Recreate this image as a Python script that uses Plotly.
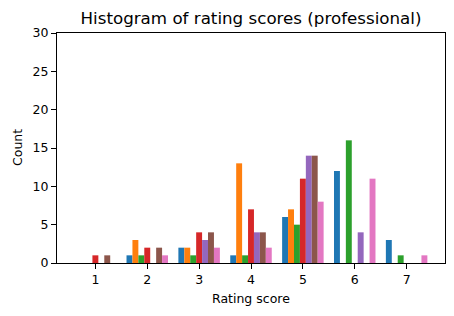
import plotly.graph_objects as go

scores = [1, 2, 3, 4, 5, 6, 7]
series_names = ["Rater 1", "Rater 2", "Rater 3", "Rater 4", "Rater 5", "Rater 6", "Rater 7"]
counts_1 = [0, 1, 2, 1, 6, 12, 3]
counts_2 = [0, 3, 2, 13, 7, 0, 0]
counts_3 = [0, 1, 1, 1, 5, 16, 1]
counts_4 = [1, 2, 4, 7, 11, 0, 0]
counts_5 = [0, 0, 3, 4, 14, 4, 0]
counts_6 = [1, 2, 4, 4, 14, 0, 0]
counts_7 = [0, 1, 2, 2, 8, 11, 1]
colors = ["#1f77b4", "#ff7f0e", "#2ca02c", "#d62728", "#9467bd", "#8c564b", "#e377c2"]
y_ticks = [0, 5, 10, 15, 20, 25, 30]

all_counts = [counts_1, counts_2, counts_3, counts_4, counts_5, counts_6, counts_7]

fig = go.Figure()
for name, cnt, col in zip(series_names, all_counts, colors):
    fig.add_trace(go.Bar(x=scores, y=cnt, name=name, marker=dict(color=col, line=dict(width=0)),
                         showlegend=False, hoverinfo="skip"))

W, H = 454, 316
font = "DejaVu Sans"
fig.update_layout(
    width=W, height=H,
    margin=dict(l=57, r=9, t=33, b=53),
    paper_bgcolor="white", plot_bgcolor="white",
    barmode="group", bargap=0.2, bargroupgap=0,
    font=dict(family=font, size=12.5, color="black"),
    title=dict(text="Histogram of rating scores (professional)", x=0.5, xanchor="center", xref="paper",
               y=1 - 18 / H, yanchor="middle", font=dict(size=16.7, family=font, color="black")),
    annotations=[
        dict(text="Rating score", xref="paper", yref="paper", x=0.5, y=-(298 - 263) / 230,
             xanchor="center", yanchor="middle", showarrow=False, font=dict(size=12.5)),
        dict(text="Count", xref="paper", yref="paper", x=-(57 - 17) / 388, y=0.5, textangle=-90,
             xanchor="center", yanchor="middle", showarrow=False, font=dict(size=12.5)),
    ],
)
fig.update_xaxes(
    range=[0.26, 7.74], tickmode="array", tickvals=scores, ticktext=[str(s) for s in scores],
    showline=True, linecolor="black", linewidth=1, mirror=True, automargin=False,
    ticks="outside", ticklen=5, tickcolor="black", showgrid=False, zeroline=False,
)
fig.update_yaxes(
    range=[0, 30], tickmode="array", tickvals=y_ticks, automargin=False,
    showline=True, linecolor="black", linewidth=1, mirror=True,
    ticks="outside", ticklen=5, tickcolor="black", showgrid=False, zeroline=False,
)
fig.write_html("out.html", config={"displayModeBar": False},
               post_script="document.body.style.margin='0';document.body.style.padding='0';")
